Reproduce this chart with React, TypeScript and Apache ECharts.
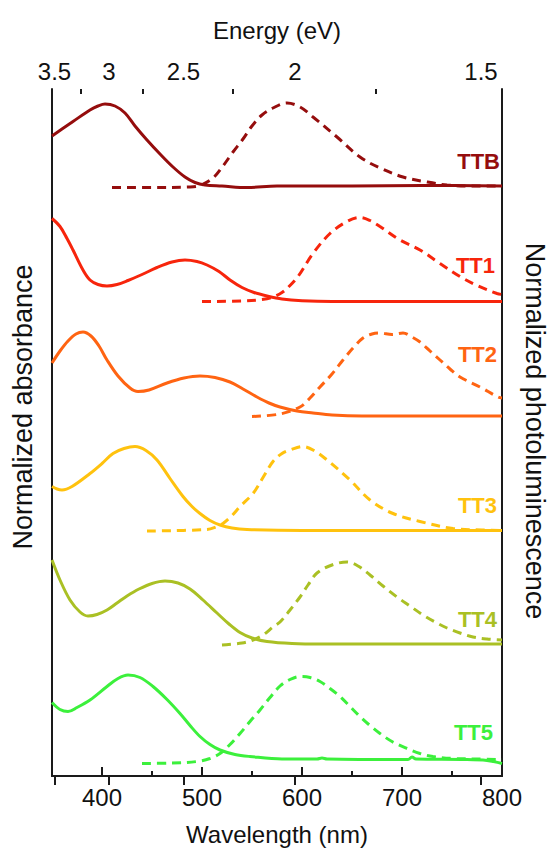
import React, { useEffect, useRef } from "react";
import * as echarts from "echarts";

type Pt = [number, number];

// Wavelength (nm) vs normalized intensity (above each trace's own baseline)
const TTB_ABS: Pt[] = [[350,0.50],[360,0.57],[371,0.645],[388,0.76],[396,0.80],[403,0.82],[413,0.80],[423,0.73],[433,0.60],[445,0.46],[458,0.32],[471,0.19],[483,0.09],[493,0.035],[503,0.01],[520,0.0],[545,-0.015],[575,0.0],[650,0.0],[720,0.005],[800,0.0]];
const TTB_PL: Pt[] = [[410,-0.015],[450,-0.015],[488,-0.01],[498,0.005],[511,0.08],[521,0.2],[531,0.34],[541,0.47],[550,0.6],[560,0.71],[571,0.78],[585,0.83],[598,0.79],[611,0.69],[635,0.49],[658,0.29],[678,0.18],[701,0.09],[725,0.04],[745,0.01],[770,0.0],[800,0.0]];
const TT1_ABS: Pt[] = [[350,0.83],[358,0.75],[365,0.63],[371,0.515],[381,0.315],[388,0.215],[396,0.17],[405,0.155],[415,0.17],[426,0.21],[440,0.27],[455,0.34],[470,0.395],[483,0.415],[495,0.40],[505,0.365],[517,0.30],[528,0.215],[540,0.14],[552,0.09],[565,0.055],[580,0.025],[600,0.008],[630,0.0],[800,0.0]];
const TT1_PL: Pt[] = [[500,0.0],[540,0.005],[560,0.02],[570,0.04],[580,0.09],[588,0.16],[596,0.25],[611,0.48],[628,0.68],[645,0.8],[658,0.84],[668,0.81],[678,0.75],[698,0.615],[718,0.515],[738,0.38],[758,0.25],[775,0.16],[795,0.08],[800,0.07]];
const TT2_ABS: Pt[] = [[350,0.53],[358,0.65],[366,0.75],[374,0.82],[381,0.84],[389,0.80],[397,0.70],[405,0.56],[416,0.40],[428,0.28],[436,0.245],[447,0.26],[465,0.33],[482,0.38],[498,0.40],[513,0.385],[528,0.34],[541,0.27],[555,0.19],[567,0.13],[578,0.09],[595,0.05],[611,0.03],[630,0.01],[660,0.0],[800,0.0]];
const TT2_PL: Pt[] = [[550,-0.005],[578,0.02],[598,0.09],[608,0.18],[618,0.29],[630,0.42],[641,0.56],[651,0.68],[661,0.78],[670,0.82],[678,0.83],[690,0.815],[701,0.83],[710,0.79],[718,0.74],[728,0.65],[738,0.56],[748,0.47],[758,0.39],[778,0.29],[796,0.19],[800,0.18]];
const TT3_ABS: Pt[] = [[350,0.44],[355,0.415],[360,0.405],[370,0.44],[388,0.57],[400,0.67],[411,0.77],[422,0.82],[433,0.84],[444,0.8],[455,0.705],[468,0.52],[481,0.34],[490,0.24],[498,0.17],[508,0.1],[518,0.055],[530,0.025],[545,0.01],[600,0.0],[800,0.0]];
const TT3_PL: Pt[] = [[445,-0.005],[505,0.01],[514,0.035],[521,0.07],[530,0.15],[538,0.24],[551,0.37],[561,0.53],[571,0.69],[580,0.77],[588,0.805],[601,0.84],[612,0.8],[625,0.705],[648,0.505],[668,0.305],[691,0.17],[718,0.09],[751,0.02],[780,0.005],[800,0.0]];
const TT4_ABS: Pt[] = [[350,0.84],[358,0.64],[368,0.44],[378,0.32],[386,0.28],[395,0.295],[405,0.34],[415,0.41],[425,0.48],[437,0.55],[450,0.605],[463,0.63],[476,0.61],[488,0.55],[501,0.44],[515,0.31],[527,0.2],[538,0.115],[550,0.06],[565,0.025],[590,0.005],[620,0.0],[800,0.0]];
const TT4_PL: Pt[] = [[520,-0.01],[540,0.01],[551,0.04],[561,0.09],[571,0.17],[578,0.22],[588,0.34],[598,0.47],[606,0.59],[615,0.71],[630,0.79],[645,0.82],[656,0.78],[668,0.69],[681,0.58],[695,0.47],[708,0.38],[721,0.29],[733,0.22],[745,0.16],[758,0.11],[771,0.07],[785,0.05],[800,0.04]];
const TT5_ABS: Pt[] = [[350,0.57],[358,0.5],[366,0.48],[375,0.52],[388,0.595],[405,0.73],[416,0.81],[426,0.845],[438,0.82],[451,0.73],[465,0.6],[478,0.46],[488,0.34],[498,0.23],[508,0.15],[518,0.095],[533,0.05],[548,0.03],[580,0.005],[615,0.005],[620,0.015],[625,0.005],[700,0.0],[706,0.0],[710,0.025],[714,0.005],[760,0.0],[785,-0.01],[800,-0.04]];
const TT5_PL: Pt[] = [[440,-0.04],[470,-0.035],[495,-0.02],[508,0.01],[518,0.06],[528,0.15],[538,0.26],[548,0.38],[558,0.495],[568,0.62],[578,0.735],[588,0.8],[598,0.83],[608,0.82],[618,0.78],[628,0.71],[638,0.63],[648,0.53],[658,0.43],[668,0.34],[678,0.26],[690,0.18],[705,0.11],[718,0.06],[731,0.03],[751,0.01],[775,0.005],[800,0.0]];

const NAMES = ["TTB", "TT1", "TT2", "TT3", "TT4", "TT5"];
const COLORS = ["#950d0d", "#f7250c", "#ff6412", "#ffc20e", "#aac024", "#3cf03c"];
const OFFSETS = [5.9, 4.745, 3.6, 2.455, 1.32, 0.165];
const ABS = [TTB_ABS, TT1_ABS, TT2_ABS, TT3_ABS, TT4_ABS, TT5_ABS];
const PL = [TTB_PL, TT1_PL, TT2_PL, TT3_PL, TT4_PL, TT5_PL];

const WL_MIN = 350;
const WL_MAX = 800;
const WL_MAJOR = [400, 500, 600, 700, 800];
const WL_MINOR = [450, 550, 650, 750];
const EV_LABELS = ["3.5", "3", "2.5", "2", "1.5"];
const EV_POS = [352.5, 407, 481.5, 593, 779];
const EV_MINOR_POS = [379, 440.5, 531, 673.5];

const Y_MAX = 6.87;
const FONT = "Liberation Sans, Arial, Helvetica, sans-serif";
const AXIS_COLOR = "#1a1a1a";

// label anchor (pixel) positions for series names
const NAME_POS: [number, number][] = [[500, 161], [495, 265.5], [497, 354.5], [497, 505], [497, 619], [493, 732.5]];

export default function App() {
  const ref = useRef<HTMLDivElement>(null);
  useEffect(() => {
    if (!ref.current) return;
    const chart = echarts.init(ref.current, undefined, { renderer: "svg" });

    const series: any[] = [];
    ABS.forEach((d, i) => {
      series.push({
        type: "line",
        name: NAMES[i] + " abs",
        data: d.map(([x, y]) => [x, y + OFFSETS[i]]),
        showSymbol: false,
        smooth: 0.35,
        lineStyle: { color: COLORS[i], width: 3 },
        xAxisIndex: 0,
        yAxisIndex: 0,
        z: 3,
      });
    });
    PL.forEach((d, i) => {
      series.push({
        type: "line",
        name: NAMES[i] + " PL",
        data: d.map(([x, y]) => [x, y + OFFSETS[i]]),
        showSymbol: false,
        smooth: 0.35,
        lineStyle: { color: COLORS[i], width: 3, type: [9, 6] },
        xAxisIndex: 0,
        yAxisIndex: 0,
        z: 2,
      });
    });

    const hidden = { show: false };
    const baseX = { type: "value", min: WL_MIN, max: WL_MAX, splitLine: hidden };

    const graphics: any[] = NAMES.map((n, i) => ({
      type: "text",
      x: NAME_POS[i][0],
      y: NAME_POS[i][1],
      style: {
        text: n,
        fill: COLORS[i],
        font: `bold 22px ${FONT}`,
        align: "right",
        verticalAlign: "middle",
      },
      z: 10,
    }));
    graphics.push(
      { type: "text", x: 277, y: 30.5, style: { text: "Energy (eV)", fill: "#111", font: `24px ${FONT}`, align: "center", verticalAlign: "middle" } },
      { type: "text", x: 277, y: 834, style: { text: "Wavelength (nm)", fill: "#111", font: `24px ${FONT}`, align: "center", verticalAlign: "middle" } },
      { type: "text", x: 23, y: 407, rotation: Math.PI / 2, style: { text: "Normalized absorbance", fill: "#111", font: `27px ${FONT}`, align: "center", verticalAlign: "middle" } },
      { type: "text", x: 535, y: 431, rotation: -Math.PI / 2, style: { text: "Normalized photoluminescence", fill: "#111", font: `27px ${FONT}`, align: "center", verticalAlign: "middle" } }
    );

    chart.setOption({
      animation: false,
      backgroundColor: "#ffffff",
      grid: { left: 52, right: 48, top: 89, bottom: 74, containLabel: false },
      xAxis: [
        {
          ...baseX,
          position: "bottom",
          axisLine: { show: true, lineStyle: { color: AXIS_COLOR, width: 2 } },
          axisTick: { show: true, inside: true, length: 9, customValues: WL_MAJOR, lineStyle: { color: AXIS_COLOR, width: 2 } },
          axisLabel: { show: true, customValues: WL_MAJOR, margin: 9, color: "#111", fontSize: 24, fontFamily: FONT },
        },
        {
          ...baseX,
          position: "top",
          axisLine: { show: true, lineStyle: { color: AXIS_COLOR, width: 2 } },
          axisTick: { show: true, inside: true, length: 9, customValues: EV_POS, lineStyle: { color: AXIS_COLOR, width: 2 } },
          axisLabel: {
            show: true,
            customValues: EV_POS,
            margin: 6,
            color: "#111",
            fontSize: 24,
            fontFamily: FONT,
            formatter: (v: number) => {
              let best = 0;
              EV_POS.forEach((p, k) => { if (Math.abs(p - v) < Math.abs(EV_POS[best] - v)) best = k; });
              return EV_LABELS[best];
            },
          },
        },
        {
          ...baseX,
          position: "top",
          axisLine: hidden,
          axisTick: { show: true, inside: true, length: 5, customValues: EV_MINOR_POS, lineStyle: { color: AXIS_COLOR, width: 2 } },
          axisLabel: hidden,
        },
        {
          ...baseX,
          position: "bottom",
          axisLine: hidden,
          axisTick: { show: true, inside: true, length: 5, customValues: WL_MINOR, lineStyle: { color: AXIS_COLOR, width: 2 } },
          axisLabel: hidden,
        },
      ],
      yAxis: [
        {
          type: "value", min: 0, max: Y_MAX, position: "left",
          axisLine: { show: true, lineStyle: { color: AXIS_COLOR, width: 2 } },
          axisTick: hidden, axisLabel: hidden, splitLine: hidden,
        },
        {
          type: "value", min: 0, max: Y_MAX, position: "right",
          axisLine: { show: true, lineStyle: { color: AXIS_COLOR, width: 2 } },
          axisTick: hidden, axisLabel: hidden, splitLine: hidden,
        },
      ],
      series,
      graphic: graphics,
    });

    return () => chart.dispose();
  }, []);

  return <div ref={ref} style={{ width: 550, height: 850, position: "absolute", left: 0, top: 0 }} />;
}
